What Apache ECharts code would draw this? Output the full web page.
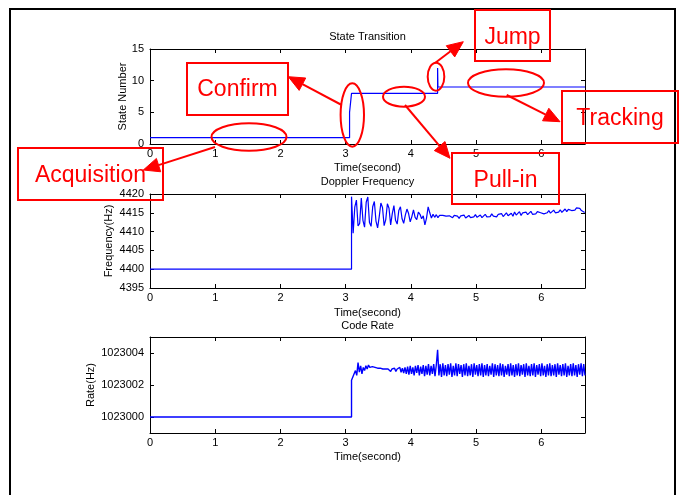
<!DOCTYPE html>
<html>
<head>
<meta charset="utf-8">
<script src="https://cdn.jsdelivr.net/npm/echarts@6/dist/echarts.min.js"></script>
<style>
  html, body { margin: 0; padding: 0; background: #fff; }
  #chart { width: 683px; height: 495px; }
</style>
</head>
<body>
<div id="chart"></div>
<script>
// ---- data ----
const timeTicks = [0, 1, 2, 3, 4, 5, 6];
const timeMax = 6.67;

// receiver state machine (time in s, state number)
const stateTimes  = [0, 3.06, 3.06, 3.09, 3.09, 4.41, 4.41, 4.415, 6.67];
const stateValues = [1, 1,    5,    5,    8,    8,    12,   9,     9];
const stateTicks = [0, 5, 10, 15];

// Doppler frequency (Hz): flat during acquisition, then loop output
const dopplerIdleTimes = [0, 3.09];
const dopplerIdleValues = [4400, 4400];
const dopplerLoopStart = 3.09;
const dopplerLoopStep = 0.025;
const dopplerLoop = [
  4419.3, 4409.6, 4416.5, 4418.4, 4411.5, 4412.2, 4418.9, 4413.0,
  4411.2, 4417.8, 4419.2, 4412.4, 4411.4, 4416.6, 4418.0, 4412.8,
  4411.0, 4414.0, 4417.6, 4416.4, 4411.6, 4413.2, 4417.4, 4416.2,
  4411.8, 4414.8, 4416.9, 4413.0, 4412.0, 4415.6, 4416.6, 4413.4,
  4412.2, 4414.4, 4416.0, 4414.8, 4412.6, 4414.0, 4415.8, 4413.8,
  4413.2, 4415.2, 4414.6, 4413.4, 4414.2, 4411.8, 4413.6, 4416.6,
  4415.0, 4413.6, 4414.6, 4413.8, 4414.5, 4413.7, 4414.3, 4413.8,
  4414.3, 4413.9, 4414.1, 4413.6, 4414.2, 4414.0, 4413.7, 4414.3,
  4413.8, 4414.1, 4413.5, 4414.2, 4413.9, 4414.4, 4413.6, 4414.0,
  4414.3, 4413.7, 4414.2, 4413.9, 4414.5, 4413.8, 4414.0, 4414.4,
  4413.7, 4414.2, 4414.6, 4413.9, 4414.3, 4414.0, 4414.7, 4414.1,
  4414.4, 4413.9, 4414.6, 4414.2, 4414.8, 4414.0, 4414.5, 4415.0,
  4414.2, 4414.6, 4414.9, 4414.1, 4415.2, 4414.4, 4414.8, 4415.3,
  4414.3, 4415.0, 4414.6, 4415.2, 4414.5, 4414.9, 4415.4, 4414.6,
  4415.1, 4414.7, 4415.3, 4414.8, 4415.0, 4415.5, 4414.7, 4415.2,
  4415.0, 4415.6, 4414.9, 4415.3, 4415.7, 4415.0, 4415.5, 4415.2,
  4415.8, 4415.1, 4415.6, 4416.0, 4415.3, 4415.9, 4416.2, 4415.6,
  4416.1, 4415.7, 4416.3, 4415.9, 4416.2, 4415.6, 4415.4, 4415.1
];
const dopplerTicks = [4395, 4400, 4405, 4410, 4415, 4420];

// code rate (Hz): nominal during acquisition, then DLL output
const codeIdleTimes = [0, 3.09];
const codeIdleValues = [1023000, 1023000];
const codeLoopStart = 3.09;
const codeLoopStep = 0.02;
const codeLoop = [
  1023002.3, 1023002.5, 1023002.4,
  1023002.9, 1023002.6, 1023003.4, 1023002.8, 1023003.2, 1023002.7, 1023003.1, 1023002.9,
  1023003.2, 1023003.0, 1023003.25, 1023003.1, 1023003.2, 1023003.15, 1023003.2, 1023003.1,
  1023003.1, 1023003.05, 1023003.0, 1023003.05, 1023002.95, 1023003.0, 1023002.9, 1023003.0,
  1023002.9, 1023003.0, 1023002.95, 1023002.85, 1023003.0, 1023002.9, 1023003.05, 1023002.85,
  1023003.0, 1023002.9, 1023003.1, 1023002.8, 1023003.05, 1023002.75,
  1023003.1, 1023002.7, 1023003.15, 1023002.65, 1023003.2, 1023002.7, 1023003.1, 1023002.6,
  1023003.2, 1023002.75, 1023003.25, 1023002.6, 1023003.15, 1023002.7, 1023003.25, 1023002.55,
  1023003.2, 1023002.65, 1023003.3, 1023002.6, 1023003.2, 1023002.7, 1023003.3, 1023002.55,
  1023003.25,
  1023004.2,
  1023002.6, 1023003.3, 1023002.5, 1023003.35, 1023002.6, 1023003.25, 1023002.55, 1023003.3, 1023002.65, 1023003.35,
  1023002.5, 1023003.2, 1023002.6, 1023003.35, 1023002.55, 1023003.3, 1023002.7, 1023003.25, 1023002.5, 1023003.3,
  1023002.6, 1023003.35, 1023002.55, 1023003.2, 1023002.6, 1023003.3, 1023002.5, 1023003.35, 1023002.65, 1023003.25,
  1023002.55, 1023003.3, 1023002.6, 1023003.35, 1023002.5, 1023003.25, 1023002.6, 1023003.3, 1023002.55, 1023003.2,
  1023002.65, 1023003.35, 1023002.5, 1023003.3, 1023002.6, 1023003.25, 1023002.55, 1023003.35, 1023002.6, 1023003.3,
  1023002.5, 1023003.2, 1023002.65, 1023003.3, 1023002.55, 1023003.35, 1023002.6, 1023003.25, 1023002.5, 1023003.3,
  1023002.6, 1023003.35, 1023002.55, 1023003.25, 1023002.65, 1023003.3, 1023002.5, 1023003.35, 1023002.6, 1023003.2,
  1023002.55, 1023003.3, 1023002.6, 1023003.35, 1023002.5, 1023003.25, 1023002.65, 1023003.3, 1023002.55, 1023003.35,
  1023002.6, 1023003.2, 1023002.5, 1023003.3, 1023002.6, 1023003.35, 1023002.55, 1023003.25, 1023002.6, 1023003.3,
  1023002.5, 1023003.35, 1023002.65, 1023003.25, 1023002.55, 1023003.3, 1023002.6, 1023003.35, 1023002.5, 1023003.2,
  1023002.6, 1023003.3, 1023002.55, 1023003.35, 1023002.6, 1023003.25, 1023002.5, 1023003.3, 1023002.65, 1023003.35,
  1023002.55, 1023003.3, 1023002.6
];
const codeTicks = [1023000, 1023002, 1023004];

// ---- helpers ----
const FONT = '"Liberation Sans", Arial, Helvetica, sans-serif';
const INK = '#000';
const RED = '#ff0000';

function pairs(times, values) {
  return times.map((t, i) => [t, values[i]]);
}
function sampled(start, step, values) {
  return values.map((v, i) => [+(start + i * step).toFixed(4), v]);
}

function xPair(grid, nameGap) {
  const base = {
    type: 'value', gridIndex: grid, min: 0, max: timeMax,
    axisLine: { onZero: false, lineStyle: { color: INK, width: 1 } },
    axisTick: { inside: true, length: 4, customValues: timeTicks, lineStyle: { color: INK } },
    splitLine: { show: false }
  };
  return [
    Object.assign({}, base, {
      position: 'bottom',
      name: 'Time(second)', nameLocation: 'middle', nameGap: nameGap, nameMoveOverlap: false,
      nameTextStyle: { color: INK, fontSize: 11, fontFamily: FONT },
      axisLabel: { customValues: timeTicks, color: INK, fontSize: 11, fontFamily: FONT, margin: 4,
                   formatter: v => String(v) }
    }),
    Object.assign({}, base, { position: 'top', axisLabel: { show: false } })
  ];
}

function yPair(grid, min, max, ticks, name, nameGap) {
  const base = {
    type: 'value', gridIndex: grid, min: min, max: max,
    axisLine: { onZero: false, lineStyle: { color: INK, width: 1 } },
    axisTick: { inside: true, length: 4, customValues: ticks, lineStyle: { color: INK } },
    splitLine: { show: false }
  };
  return [
    Object.assign({}, base, {
      position: 'left',
      name: name, nameLocation: 'middle', nameGap: nameGap, nameMoveOverlap: false,
      nameTextStyle: { color: INK, fontSize: 11, fontFamily: FONT },
      axisLabel: { customValues: ticks, color: INK, fontSize: 11, fontFamily: FONT, margin: 6,
                   formatter: v => String(v) }
    }),
    Object.assign({}, base, { position: 'right', axisLabel: { show: false } })
  ];
}

function lineSeries(data, axisIdx, width) {
  return {
    type: 'line', data: data, xAxisIndex: axisIdx, yAxisIndex: axisIdx,
    showSymbol: false, symbol: 'none', animation: false,
    lineStyle: { color: '#0000ff', width: width }, silent: true
  };
}

// red callouts: box with label, ellipse, arrow
function calloutBox(x, y, w, h, label, cy) {
  return [
    { type: 'rect', z: 100, shape: { x: x, y: y, width: w, height: h },
      style: { fill: 'none', stroke: RED, lineWidth: 2 } },
    { type: 'text', z: 101, x: x + w / 2, y: cy,
      style: { text: label, fill: RED, fontSize: 23, fontFamily: FONT,
               textAlign: 'center', textVerticalAlign: 'middle' } }
  ];
}
function ring(cx, cy, rx, ry) {
  return { type: 'ellipse', z: 100, shape: { cx: cx, cy: cy, rx: rx, ry: ry },
           style: { fill: 'none', stroke: RED, lineWidth: 2 } };
}
function arrow(x1, y1, x2, y2) {
  const dx = x2 - x1, dy = y2 - y1, len = Math.hypot(dx, dy);
  const ux = dx / len, uy = dy / len, nx = -uy, ny = ux;
  const L = 16, W = 7;
  const bx = x2 - ux * L, by = y2 - uy * L;
  return [
    { type: 'line', z: 100, shape: { x1: x1, y1: y1, x2: bx, y2: by },
      style: { stroke: RED, lineWidth: 2 } },
    { type: 'polygon', z: 100,
      shape: { points: [[x2, y2], [bx + nx * W, by + ny * W], [bx - nx * W, by - ny * W]] },
      style: { fill: RED, stroke: RED, lineWidth: 1 } }
  ];
}
function heading(text, y) {
  return { type: 'text', z: 50, x: 367.5, y: y,
           style: { text: text, fill: INK, fontSize: 11, fontFamily: FONT,
                    textAlign: 'center', textVerticalAlign: 'middle' } };
}

const chart = echarts.init(document.getElementById('chart'), null, { renderer: 'canvas' });

const graphics = [
  { type: 'rect', z: 1, shape: { x: 10, y: 9, width: 665, height: 500 },
    style: { fill: 'none', stroke: INK, lineWidth: 2 } },
  heading('State Transition', 37),
  heading('Doppler Frequency', 182),
  heading('Code Rate', 326),
  ...calloutBox(475, 10, 75, 51, 'Jump', 38),
  ...calloutBox(187, 63, 101, 52, 'Confirm', 90),
  ...calloutBox(562, 91, 116, 52, 'Tracking', 119),
  ...calloutBox(452, 153, 107, 51, 'Pull-in', 181),
  ...calloutBox(18, 148, 145, 52, 'Acquisition', 176),
  ring(249, 137, 37.5, 13.7),
  ring(352.3, 115, 11.7, 31.7),
  ring(404, 96.7, 21, 10),
  ring(436, 76.7, 8.3, 14),
  ring(506, 83, 38, 13.7),
  ...arrow(341.7, 105, 288.3, 76.7),
  ...arrow(215, 147, 143.3, 170),
  ...arrow(435, 63, 463.3, 41.7),
  ...arrow(405, 105, 450, 158.3),
  ...arrow(506.7, 95, 560, 121.7)
];

chart.setOption({
  animation: false,
  backgroundColor: '#fff',
  grid: [
    { left: 150, width: 435, top: 49, height: 95 },
    { left: 150, width: 435, top: 194, height: 94 },
    { left: 150, width: 435, top: 337, height: 96 }
  ],
  xAxis: [...xPair(0, 18), ...xPair(1, 19), ...xPair(2, 18)],
  yAxis: [
    ...yPair(0, 0, 15, stateTicks, 'State Number', 22),
    ...yPair(1, 4395, 4420, dopplerTicks, 'Frequency(Hz)', 36),
    ...yPair(2, 1022999, 1023005, codeTicks, 'Rate(Hz)', 54)
  ],
  series: [
    lineSeries(pairs(stateTimes, stateValues), 0, 1.2),
    lineSeries(pairs(dopplerIdleTimes, dopplerIdleValues)
      .concat(sampled(dopplerLoopStart, dopplerLoopStep, dopplerLoop)), 2, 1.2),
    lineSeries(pairs(codeIdleTimes, codeIdleValues)
      .concat(sampled(codeLoopStart, codeLoopStep, codeLoop)), 4, 1.4)
  ],
  graphic: graphics
});
</script>
</body>
</html>
